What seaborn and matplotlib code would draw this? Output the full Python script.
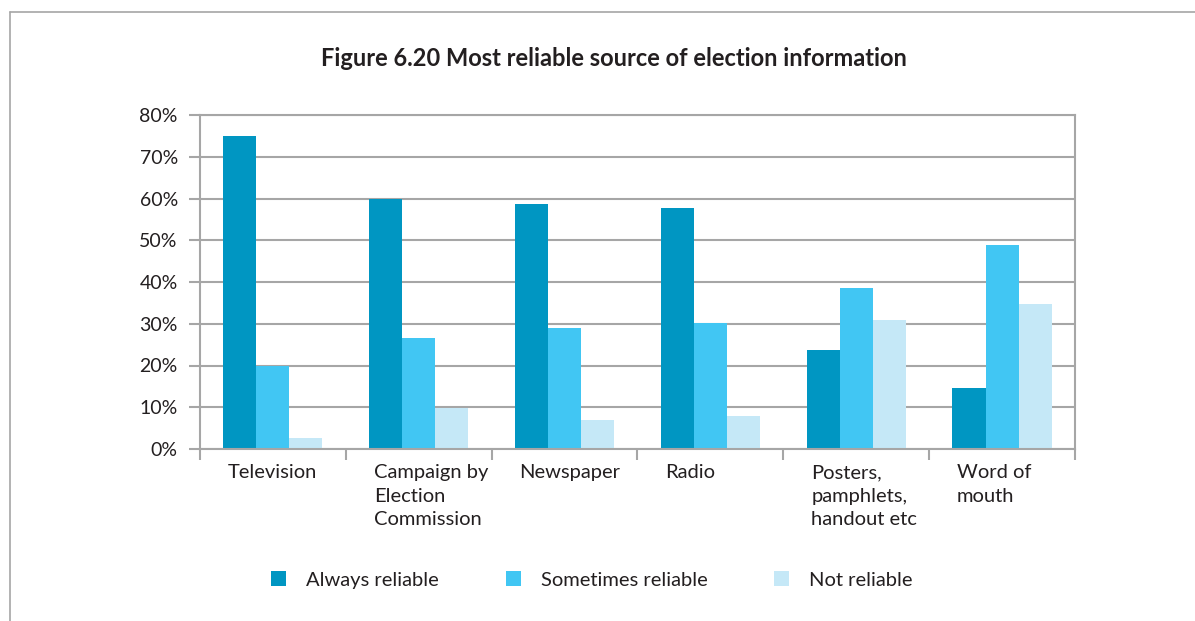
import matplotlib
matplotlib.use("Agg")
import matplotlib.pyplot as plt
import matplotlib.transforms as mtransforms
from matplotlib.lines import Line2D
import seaborn as sns
import pandas as pd

sources = ["Television", "Campaign by\nElection\nCommission", "Newspaper", "Radio",
           "Posters,\npamphlets,\nhandout etc", "Word of\nmouth"]
always_reliable = [75.0, 59.8, 58.8, 57.8, 23.8, 14.7]
sometimes_reliable = [20.0, 26.7, 29.0, 30.1, 38.6, 48.8]
not_reliable = [2.7, 9.9, 7.0, 8.0, 31.0, 34.8]
series = ["Always reliable", "Sometimes reliable", "Not reliable"]
yticks = [0, 10, 20, 30, 40, 50, 60, 70, 80]
title = "Figure 6.20 Most reliable source of election information"

colors = ["#0096C2", "#41C6F3", "#C5E8F7"]

rows = []
for s, vals in zip(series, [always_reliable, sometimes_reliable, not_reliable]):
    for src, v in zip(sources, vals):
        rows.append({"source": src, "series": s, "value": v})
df = pd.DataFrame(rows)

sns.set_theme(style="white")
plt.rcParams["font.family"] = ["Lato", "DejaVu Sans"]

fig = plt.figure(figsize=(11.95, 6.21), dpi=100)
ax = fig.add_axes([200/1195, 1-449/621, 875/1195, (449-115)/621])

sns.barplot(data=df, x="source", y="value", hue="series", order=sources,
            hue_order=series, palette=colors, width=0.68, saturation=1,
            linewidth=0, ax=ax, errorbar=None)

ax.set_ylim(0, 80)
ax.set_xlim(-0.5, len(sources) - 0.5)
ax.set_yticks(yticks)
ax.set_yticklabels([f"{t}%" for t in yticks], fontsize=14, color="#231F20")
ax.yaxis.grid(True, color="#A6A6A6", linewidth=1.5)
ax.set_axisbelow(True)
ax.set_xlabel("")
ax.set_ylabel("")

# x tick marks at category boundaries
ax.set_xticks([i - 0.5 for i in range(len(sources) + 1)], minor=True)
ax.tick_params(axis="x", which="minor", length=8, width=1.5, color="#A6A6A6", direction="out", bottom=True)
ax.tick_params(axis="x", which="major", length=0, pad=11)
ax.tick_params(axis="y", which="major", length=8, width=1.5, color="#A6A6A6", direction="out", left=True, pad=8)

ax.set_xticks(range(len(sources)))
ax.set_xticklabels(sources, fontsize=14.5, color="#231F20", ha="left", va="top", linespacing=1.45)
offset = mtransforms.ScaledTranslation(-45/100, 0, fig.dpi_scale_trans)
for lbl in ax.get_xticklabels():
    lbl.set_transform(lbl.get_transform() + offset)

for side in ["left", "bottom", "right", "top"]:
    ax.spines[side].set_visible(True)
    ax.spines[side].set_color("#A6A6A6")
    ax.spines[side].set_linewidth(1.5)

handles, labels = ax.get_legend_handles_labels()
ax.get_legend().remove()
fig.legend(handles, labels, loc="center", bbox_to_anchor=(592/1195, 1-580/621), ncol=3,
           frameon=False, fontsize=14.5, handlelength=0.75, handleheight=0.75,
           handletextpad=1.0, columnspacing=3.3, labelcolor="#231F20")

fig.text(614/1195, 1-58/621, title, ha="center", va="center", fontsize=17,
         fontweight="bold", color="#231F20")

# outer frame
fig.add_artist(Line2D([10/1195, 10/1195], [0, 1-12/621], transform=fig.transFigure,
                      color="#A6A6A6", linewidth=1.2))
fig.add_artist(Line2D([10/1195, 1], [1-12/621, 1-12/621], transform=fig.transFigure,
                      color="#A6A6A6", linewidth=1.2))

fig.savefig("out.png", dpi=100, facecolor="white")
